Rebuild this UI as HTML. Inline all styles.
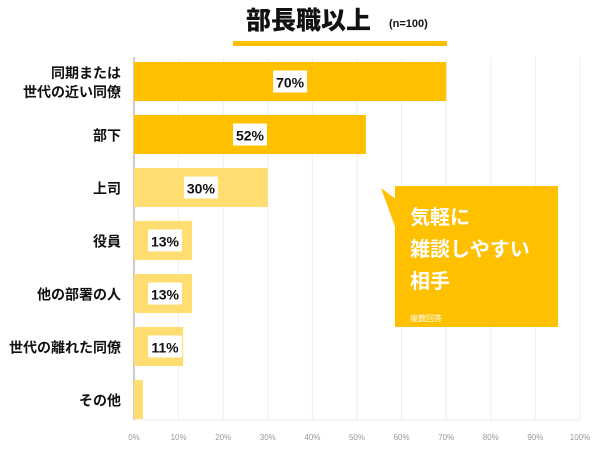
<!DOCTYPE html>
<html><head><meta charset="utf-8"><style>
body{margin:0;background:#fff;font-family:"Liberation Sans","Noto Sans CJK JP",sans-serif}
svg text{font-family:"Liberation Sans","Noto Sans CJK JP",sans-serif}
</style></head><body>
<svg id="c" width="600" height="448" viewBox="0 0 600 448">
<text x="300" y="29" text-anchor="end" font-size="25" font-weight="900" fill="#111" dx="71">部長職以上</text>
<text x="389" y="27" font-size="11" font-weight="700" fill="#111">(n=100)</text>
<rect x="233" y="41" width="214" height="5" fill="#FFC000"/>
<g id="grid"></g><g id="bars"></g>
<g>
<polygon points="381,188 397,200 397,232" fill="#FFC000"/>
<rect x="395" y="186" width="163" height="141" fill="#FFC000"/>
<text x="410" y="224" font-size="20" font-weight="700" fill="#fff">気軽に</text>
<text x="410" y="256" font-size="20" font-weight="700" fill="#fff">雑談しやすい</text>
<text x="410" y="288" font-size="20" font-weight="700" fill="#fff">相手</text>
<text x="410" y="321" font-size="8" fill="#fff">複数回答</text>
</g>
</svg>
<script>
const categories=["同期または|世代の近い同僚","部下","上司","役員","他の部署の人","世代の離れた同僚","その他"];
const values=[70,52,30,13,13,11,2];
const ticks=[0,10,20,30,40,50,60,70,80,90,100];
const ns="http://www.w3.org/2000/svg";
const X0=134,X1=580,Y0=57,Y1=420,top0=62,pitch=53,bh=39;
const x=v=>X0+(X1-X0)*v/100;
const y=i=>top0+i*pitch;
function mk(t,a,p){const e=document.createElementNS(ns,t);for(const k in a)e.setAttribute(k,a[k]);p.appendChild(e);return e;}
const g=document.getElementById('grid'),b=document.getElementById('bars');
ticks.forEach(t=>{
 const l=mk('line',{x1:x(t),x2:x(t),y1:Y0,y2:Y1,stroke:t==0?'#ccc':'#eee','stroke-width':t==0?2:1},g);
 
 
 const tx=mk('text',{x:x(t),y:440,'text-anchor':'middle','font-size':8,fill:'#999'},g);
 tx.textContent=t+'%';
 
 
});
mk('line',{x1:X0,x2:X1,y1:Y1,y2:Y1,stroke:'#eee'},g);
categories.forEach((c,i)=>{
 const r=mk('rect',{x:X0,y:y(i),width:x(values[i])-X0,height:bh,fill:i<2?'#FFC000':'#FFDD70'},b);
 
 
 const lines=c.split('|'),cy=y(i)+bh/2;
 lines.forEach((s,j)=>{
  const t=mk('text',{x:121,y:cy+6+(j-(lines.length-1)/2)*19,'text-anchor':'end','font-size':14,'font-weight':700,fill:'#111'},b);
  t.textContent=s;
  
  
 });
 if(values[i]>=5){
  const w=34,cx=i<3?(X0+x(values[i]))/2:X0+31;
  mk('rect',{x:cx-w/2,y:cy-11,width:w,height:22,fill:'#fff'},b);
  const t=mk('text',{x:cx,y:cy+6,'text-anchor':'middle','font-size':14,'font-weight':700,fill:'#111'},b);
  t.textContent=values[i]+'%';
  
  
 }
});
</script>
</body></html>
